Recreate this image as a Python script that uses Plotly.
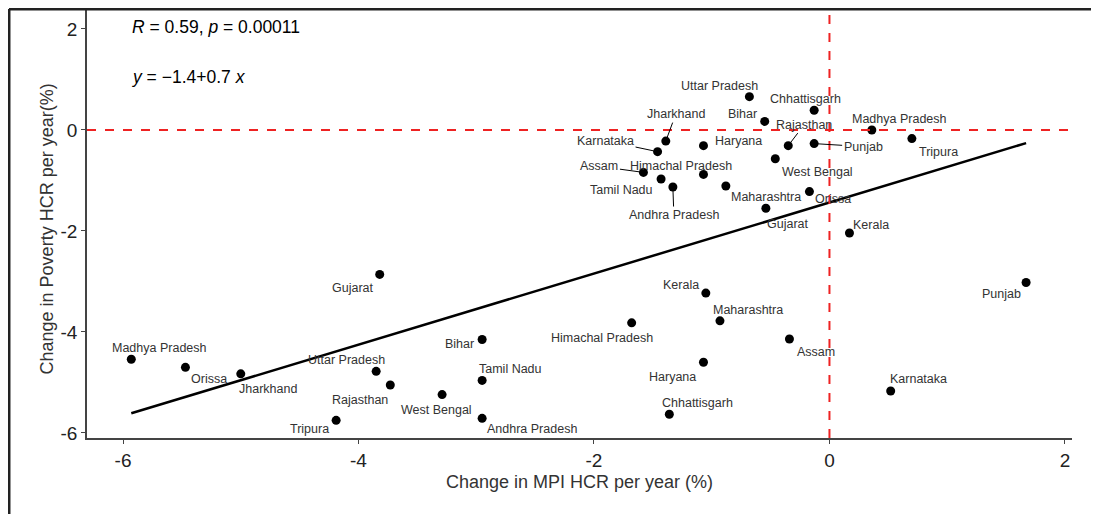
import plotly.graph_objects as go

# first set of states (upper cluster)
states_a = ["Uttar Pradesh", "Chhattisgarh", "Bihar", "Madhya Pradesh", "Tripura",
            "Jharkhand", "Haryana", "Rajasthan", "Punjab", "Karnataka", "West Bengal",
            "Assam", "Himachal Pradesh", "Tamil Nadu", "Andhra Pradesh", "Maharashtra",
            "Orissa", "Gujarat", "Kerala"]
mpi_a = [-0.68, -0.13, -0.55, 0.36, 0.70, -1.39, -1.07, -0.35, -0.13, -1.46, -0.46,
         -1.58, -1.07, -1.43, -1.33, -0.88, -0.17, -0.54, 0.17]
pov_a = [0.66, 0.39, 0.17, 0.00, -0.17, -0.22, -0.31, -0.31, -0.27, -0.43, -0.57,
         -0.84, -0.88, -0.97, -1.13, -1.11, -1.22, -1.55, -2.04]

# second set of states (lower cluster)
states_b = ["Gujarat", "Madhya Pradesh", "Orissa", "Jharkhand", "Bihar", "Uttar Pradesh",
            "Rajasthan", "Tamil Nadu", "West Bengal", "Tripura", "Andhra Pradesh",
            "Kerala", "Maharashtra", "Himachal Pradesh", "Assam", "Haryana", "Karnataka",
            "Chhattisgarh", "Punjab"]
mpi_b = [-3.82, -5.93, -5.47, -5.00, -2.95, -3.85, -3.73, -2.95, -3.29, -4.19, -2.95,
         -1.05, -0.93, -1.68, -0.34, -1.07, 0.52, -1.36, 1.67]
pov_b = [-2.86, -4.54, -4.70, -4.83, -4.15, -4.78, -5.05, -4.96, -5.24, -5.75, -5.71,
         -3.23, -3.78, -3.82, -4.14, -4.60, -5.17, -5.63, -3.02]

# fitted line end points
fit_x = [-5.93, 1.67]
fit_y = [-5.61, -0.26]

x_ticks = [-6, -4, -2, 0, 2]
y_ticks = [-6, -4, -2, 0, 2]

# label offsets in pixels (dx, dy down) and whether a segment is drawn
offs_a = [(-30, -11, 0), (-9, -11, 0), (-22, -7, 0), (28, -11, 0), (27, 13, 0),
          (10, -27, 1), (35, -5, 0), (16, -21, 1), (49, 3, 1), (-52, -11, 1), (42, 13, 0),
          (-44, -6, 1), (-22, -8, 0), (-40, 11, 0), (1, 28, 1), (40, 11, 0),
          (24, 7, 0), (22, 16, 0), (22, -8, 0)]
offs_b = [(-27, 14, 0), (28, -11, 0), (24, 12, 0), (27, 15, 0), (-23, 4, 0), (-30, -11, 0),
          (-30, 15, 0), (28, -11, 0), (-6, 15, 0), (-27, 9, 0), (50, 11, 0),
          (-25, -8, 0), (28, -11, 0), (-30, 15, 0), (27, 13, 0), (-31, 15, 0), (28, -12, 0),
          (28, -11, 0), (-25, 12, 0)]

FONT = "Liberation Sans Narrow, Liberation Sans, Arial, sans-serif"

fig = go.Figure()

fig.add_trace(go.Scatter(x=fit_x, y=fit_y, mode="lines",
                         line=dict(color="black", width=2.5), showlegend=False))
fig.add_trace(go.Scatter(x=mpi_a + mpi_b, y=pov_a + pov_b, mode="markers",
                         marker=dict(color="black", size=9), showlegend=False))

annos = []
for names, xs, ys, offs in [(states_a, mpi_a, pov_a, offs_a), (states_b, mpi_b, pov_b, offs_b)]:
    for n, x, y, o in zip(names, xs, ys, offs):
        annos.append(dict(x=x, y=y, text=n, showarrow=True, ax=o[0], ay=o[1],
                          arrowhead=0, arrowwidth=1, standoff=4,
                          arrowcolor="black" if o[2] else "rgba(0,0,0,0)",
                          font=dict(family=FONT, size=12.5, color="#333333")))

annos.append(dict(x=-5.94, y=2.03, xanchor="left", yanchor="middle", showarrow=False,
                  text="<i>R</i> = 0.59, <i>p</i> = 0.00011",
                  font=dict(family=FONT, size=17.5, color="black")))
annos.append(dict(x=-5.94, y=1.04, xanchor="left", yanchor="middle", showarrow=False,
                  text="<i>y</i> = \u22121.4+0.7 <i>x</i>",
                  font=dict(family=FONT, size=17.5, color="black")))
# y axis title, placed by hand so it sits a little below the middle like the original
annos.append(dict(xref="paper", yref="y", x=-0.0406, y=-1.97, xanchor="center",
                  yanchor="middle", showarrow=False, textangle=-90,
                  text="Change in Poverty HCR per year(%)",
                  font=dict(family=FONT, size=18, color="#333333")))

# the page adds an 8px body margin, so margins are reduced by 8
fig.update_layout(
    width=1099, height=514,
    margin=dict(l=79, r=35, t=2, b=84),
    plot_bgcolor="white", paper_bgcolor="white",
    font=dict(family=FONT, color="#333333"),
    annotations=annos,
    shapes=[
        dict(type="line", xref="x", yref="paper", x0=0, x1=0, y0=0, y1=1,
             line=dict(color="#ee2222", width=2, dash="dash")),
        dict(type="line", xref="paper", yref="y", x0=0, x1=1, y0=0, y1=0,
             line=dict(color="#ee2222", width=2, dash="dash")),
        dict(type="line", xref="paper", yref="paper", x0=-0.0792, x1=1.04, y0=1.0023, y1=1.0023,
             line=dict(color="#222222", width=3)),
        dict(type="line", xref="paper", yref="paper", x0=-0.0792, x1=-0.0792, y0=-0.2, y1=1.0023,
             line=dict(color="#222222", width=3)),
    ],
)

fig.update_xaxes(range=[-6.306, 2.06], showgrid=False, zeroline=False,
                 showline=True, linecolor="#444444", linewidth=1.5,
                 ticks="outside", ticklen=4, tickcolor="#444444",
                 tickvals=x_ticks, ticktext=[str(v) for v in x_ticks],
                 tickfont=dict(size=19, color="#222222"),
                 title=dict(text="Change in MPI HCR per year (%)",
                            font=dict(size=18, color="#333333"), standoff=6))
fig.update_yaxes(range=[-6.1, 2.376], showgrid=False, zeroline=False,
                 showline=True, linecolor="#444444", linewidth=1.5,
                 ticks="outside", ticklen=4, tickcolor="#444444",
                 tickvals=y_ticks, ticktext=[str(v) for v in y_ticks],
                 tickfont=dict(size=19, color="#222222"))

fig.write_html("out.html")
